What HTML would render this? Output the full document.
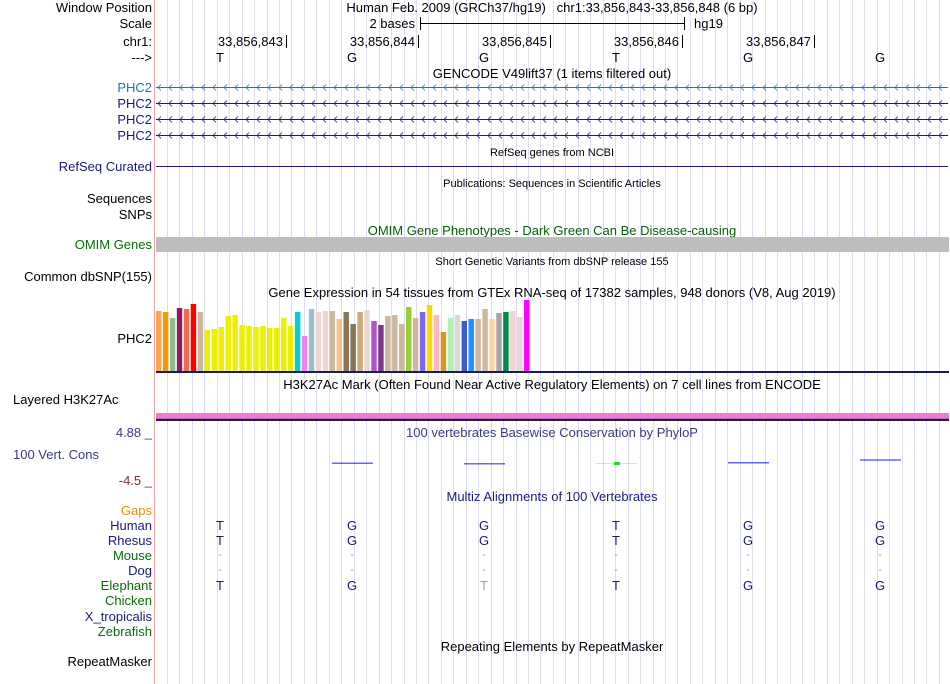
<!DOCTYPE html>
<html><head><meta charset="utf-8"><style>
body{margin:0;background:#fff;}
svg{display:block;font-family:"Liberation Sans",sans-serif;}
</style></head><body>
<svg id="s" width="950" height="684" viewBox="0 0 950 684">
<g id="grid"></g>
<line x1="154.5" y1="0" x2="154.5" y2="684" stroke="#f4a8a8"/>
<g font-size="13" text-anchor="end">
<text x="152" y="12" fill="#000">Window Position</text>
<text x="152" y="28" fill="#000">Scale</text>
<text x="152" y="46" fill="#000">chr1:</text>
<text x="152" y="62" fill="#000">---&gt;</text>
<text x="152" y="92" fill="#1f77b4">PHC2</text>
<text x="152" y="108" fill="#1a1a80">PHC2</text>
<text x="152" y="124" fill="#1a1a80">PHC2</text>
<text x="152" y="140" fill="#1a1a80">PHC2</text>
<text x="152" y="171" fill="#1a1a80">RefSeq Curated</text>
<text x="152" y="203" fill="#000">Sequences</text>
<text x="152" y="219" fill="#000">SNPs</text>
<text x="152" y="249" fill="#0a6a0a">OMIM Genes</text>
<text x="152" y="281" fill="#000">Common dbSNP(155)</text>
<text x="152" y="343" fill="#000">PHC2</text>
<text x="13" y="404" text-anchor="start" fill="#000">Layered H3K27Ac</text>
<text x="152" y="437" fill="#3a3a8a">4.88 _</text>
<text x="13" y="459" text-anchor="start" fill="#3a3a8a">100 Vert. Cons</text>
<text x="152" y="485" fill="#8a2a2a">-4.5 _</text>
<text x="152" y="515" fill="#f08c00">Gaps</text>
<text x="152" y="530" fill="#1a1a80">Human</text>
<text x="152" y="545" fill="#1a1a80">Rhesus</text>
<text x="152" y="560" fill="#0a6a0a">Mouse</text>
<text x="152" y="575" fill="#1a1a80">Dog</text>
<text x="152" y="590" fill="#0a6a0a">Elephant</text>
<text x="152" y="605" fill="#0a6a0a">Chicken</text>
<text x="152" y="621" fill="#1a1a80">X_tropicalis</text>
<text x="152" y="636" fill="#0a6a0a">Zebrafish</text>
<text x="152" y="666" fill="#000">RepeatMasker</text>
</g>
<g font-size="13" text-anchor="middle" fill="#000">
<text x="552" y="12">Human Feb. 2009 (GRCh37/hg19) &#160; chr1:33,856,843-33,856,848 (6 bp)</text>
<text x="552" y="78">GENCODE V49lift37 (1 items filtered out)</text>
<text x="552" y="156" font-size="11">RefSeq genes from NCBI</text>
<text x="552" y="187" font-size="11">Publications: Sequences in Scientific Articles</text>
<text x="552" y="235" fill="#0a5a0a">OMIM Gene Phenotypes - Dark Green Can Be Disease-causing</text>
<text x="552" y="265" font-size="11">Short Genetic Variants from dbSNP release 155</text>
<text x="552" y="297">Gene Expression in 54 tissues from GTEx RNA-seq of 17382 samples, 948 donors (V8, Aug 2019)</text>
<text x="552" y="389">H3K27Ac Mark (Often Found Near Active Regulatory Elements) on 7 cell lines from ENCODE</text>
<text x="552" y="437" fill="#3a3a8a">100 vertebrates Basewise Conservation by PhyloP</text>
<text x="552" y="501" fill="#1a1a80">Multiz Alignments of 100 Vertebrates</text>
<text x="552" y="651">Repeating Elements by RepeatMasker</text>
</g>
<g>
<text x="415" y="28" font-size="13" text-anchor="end">2 bases</text>
<line x1="420" y1="23.5" x2="684" y2="23.5" stroke="#000"/>
<line x1="420.5" y1="17" x2="420.5" y2="30" stroke="#000"/>
<line x1="684.5" y1="17" x2="684.5" y2="30" stroke="#000"/>
<text x="694" y="28" font-size="13">hg19</text>
</g>
<g id="ruler" font-size="13"></g>
<g id="genes"></g>
<line x1="156" y1="166.5" x2="948" y2="166.5" stroke="#1a1a80"/>
<rect x="156" y="237" width="793" height="15" fill="#bebebe"/>
<g id="bars"></g>
<rect x="156" y="371" width="793" height="2" fill="#1a1a60"/>
<rect x="156" y="413" width="793" height="5" fill="#f07ad0"/>
<rect x="156" y="418" width="793" height="1" fill="#b06ac0"/>
<rect x="156" y="419" width="793" height="2" fill="#2a1a3a"/>
<g id="cons"></g>
<g id="align" font-size="13" text-anchor="middle"></g>
</svg>
<script>
const bases=["T","G","G","T","G","G"];
const positions=["33,856,843","33,856,844","33,856,845","33,856,846","33,856,847"];
const gtexValues=[60,59,53,63,62,67,59,41,42,44,55,56,46,45,44,45,43,43,53,45,59,35,62,59,60,60,52,59,47,59,61,50,46,55,56,47,64,53,59,66,56,39,53,56,50,52,52,62,52,58,59,60,54,71];
const gtexColors=["#FFA54F","#EE9A00","#8FBC8F","#8B1C62","#EE6A50","#FF0000","#CDB79E","#EEEE00","#EEEE00","#EEEE00","#EEEE00","#EEEE00","#EEEE00","#EEEE00","#EEEE00","#EEEE00","#EEEE00","#EEEE00","#EEEE00","#EEEE00","#00CED1","#EE82EE","#9AC0CD","#EED5D2","#EED5D2","#CDB79E","#F4C28A","#8B7355","#8B7355","#CDAA7D","#EED5D2","#B452CD","#7A378B","#CDB79E","#CDB79E","#CDB79E","#9ACD32","#CDB79E","#7B68EE","#FFD700","#FFB6C1","#CD9B1D","#B4EEB4","#D9D9D9","#3A5FCD","#1E90FF","#CDB79E","#CDB79E","#FFD39B","#A6A6A6","#008B45","#EED5D2","#EED5D2","#FF00FF"];
const consStart=[1,2,3,4,5];
const consVals=[-0.4,-0.6,-0.6,-0.2,0.9];
const consColors=["#3333ff","#3333ff","#22dd22","#3333ff","#3333ff"];
const species=["Human","Rhesus","Mouse","Dog","Elephant"];
const alignRows=[["T","G","G","T","G","G"],["T","G","G","T","G","G"],["-","-","-","-","-","-"],["-","-","-","-","-","-"],["T","G","T","T","G","G"]];
const NS="http://www.w3.org/2000/svg";
const x0=154,bw=132;
const xBase=i=>x0+bw*i+bw/2;
function mk(t,a,p){const e=document.createElementNS(NS,t);for(const k in a)e.setAttribute(k,a[k]);p.appendChild(e);return e;}
const grid=document.getElementById('grid');
for(let x=167;x<949;x+=12.45){const l=mk('line',{x1:Math.round(x)+0.5,x2:Math.round(x)+0.5,y1:0,y2:684,stroke:'#dcdcf4'},grid);

}
const ruler=document.getElementById('ruler');
positions.forEach((p,i)=>{const xe=x0+bw*(i+1);
const t=mk('text',{x:xe-3,y:46,'text-anchor':'end'},ruler);t.textContent=p;


const l=mk('line',{x1:xe+0.5,x2:xe+0.5,y1:35,y2:48,stroke:'#000'},ruler);

});
bases.forEach((b,i)=>{const t=mk('text',{x:xBase(i),y:62,'text-anchor':'middle'},ruler);t.textContent=b;

});
const genes=document.getElementById('genes');
[[87,'#1f77b4'],[103,'#1a1a80'],[119,'#1a1a80'],[135,'#1a1a80']].forEach(([y,c])=>{
const g=mk('g',{stroke:c,fill:'none'},genes);


mk('line',{x1:156,x2:948,y1:y+0.5,y2:y+0.5},g);
let d='';for(let x=158;x<946;x+=11)d+=`M${x+3},${y-2.5}L${x},${y+0.5}L${x+3},${y+3.5}`;
mk('path',{d:d,'stroke-width':0.8},g);});
const bars=document.getElementById('bars');
const by=371,scale=1.0;
const bwid=375/gtexValues.length;
gtexValues.forEach((v,i)=>{const h=v*scale;
const r=mk('rect',{x:(156+i*bwid).toFixed(2),y:by-h,width:(bwid-1.5).toFixed(2),height:h,fill:gtexColors[i]},bars);

});
const cons=document.getElementById('cons');
const cy=v=>462-v*2.5;
consStart.forEach((s,i)=>{const xc=xBase(s);
const green=consColors[i]==='#22dd22';
const r=mk('rect',{x:xc-20,y:cy(consVals[i])-0.5,width:41,height:green?1:1.5,fill:consColors[i],opacity:green?0.3:0.75},cons);


if(green){const q=mk('rect',{x:xc-2,y:cy(consVals[i])-1.5,width:6,height:3,fill:'#22dd22'},cons);

}});
const al=document.getElementById('align');
alignRows.forEach((row,r)=>{row.forEach((b,i)=>{const dash=b==='-';
const t=mk('text',{x:xBase(i),y:530+r*15-(dash?2:0),fill:(r===4&&i===2)?'#9a9ad0':(dash?'#8a8ab0':'#1a1a80'),'font-size':dash?10:13},al);
t.textContent=b;

});});
</script>
</body></html>
